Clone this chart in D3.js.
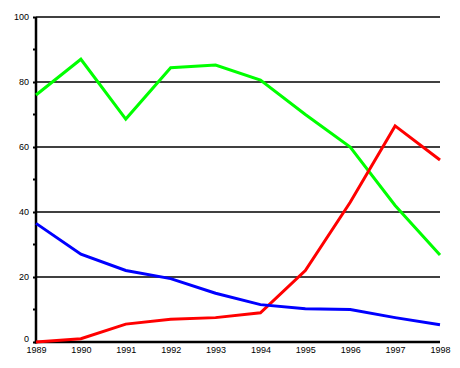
<!DOCTYPE html>
<html><head><meta charset="utf-8">
<script src="https://cdn.jsdelivr.net/npm/d3@7"></script>
<style>body{margin:0;background:#fff}svg{display:block}text{font-family:Arial,"Liberation Sans",sans-serif;font-size:9px;fill:#000}</style>
</head><body>
<script>
const years = [1989,1990,1991,1992,1993,1994,1995,1996,1997,1998];
const greenValues = [76,87,68.6,84.4,85.2,80.6,70,60,42,26.8];
const redValues = [0,1,5.5,7,7.5,9,22,43,66.5,56];
const blueValues = [36.5,27,22,19.5,15,11.5,10.2,10,7.5,5.3];
const yTicks = [0,20,40,60,80,100];
const yMinorTicks = [10,30,50,70,90];
const seriesColors = ["#00ff00","#ff0000","#0000ff"];

const W=460,H=368;
const svg=d3.select("body").append("svg").attr("width",W).attr("height",H);
const x=d3.scaleLinear().domain([1989,1998]).range([36,440]);
const y=d3.scaleLinear().domain([0,100]).range([342,17]);

// gridlines
svg.append("g").selectAll("line").data(yTicks.filter(d=>d>0)).join("line")
  .attr("x1",36).attr("x2",440).attr("y1",d=>y(d)).attr("y2",d=>y(d))
  .attr("stroke","#000").attr("stroke-width",1.5);

// y axis
const yAxis=d3.axisLeft(y).tickValues(yTicks).tickSize(3).tickPadding(4).tickFormat(d3.format("d"));
const gy=svg.append("g").attr("transform","translate(36,0)").call(yAxis);
gy.select(".domain").remove();
gy.selectAll(".tick line").attr("stroke-width",2);
gy.selectAll("text").style("font-size","9px");
gy.selectAll(".tick").filter(d=>d===0).select("text").attr("dy","-0.1em");
svg.append("g").selectAll("line").data(yMinorTicks).join("line")
  .attr("x1",33).attr("x2",36).attr("y1",d=>y(d)).attr("y2",d=>y(d)).attr("stroke","#000").attr("stroke-width",2);

// x axis
const xAxis=d3.axisBottom(x).tickValues(years).tickSize(0).tickPadding(5).tickFormat(d3.format("d"));
const gx=svg.append("g").attr("transform","translate(0,342)").call(xAxis);
gx.select(".domain").remove();
gx.selectAll("text").style("font-size","9px");

svg.append("line").attr("x1",36).attr("x2",36).attr("y1",y(100)).attr("y2",y(0)+1.5).attr("stroke","#000").attr("stroke-width",2.5);
svg.append("line").attr("x1",34.75).attr("x2",440).attr("y1",y(0)).attr("y2",y(0)).attr("stroke","#000").attr("stroke-width",2.5);

const line=d3.line().x((d,i)=>x(years[i])).y(d=>y(d));
[greenValues,redValues,blueValues].forEach((vals,k)=>{
  svg.append("path").attr("d",line(vals)).attr("fill","none")
    .attr("stroke",seriesColors[k]).attr("stroke-width",3).attr("stroke-linejoin","miter");
});
</script>
</body></html>
